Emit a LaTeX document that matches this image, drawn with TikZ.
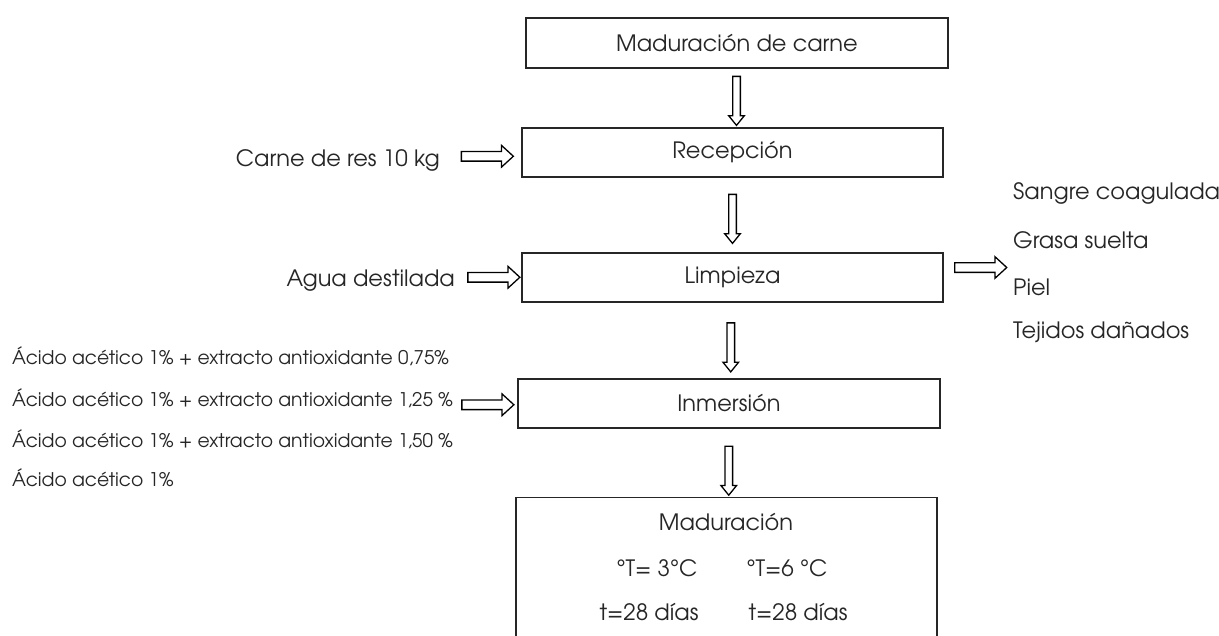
\documentclass[tikz,border=0pt]{standalone}
\usepackage{fontspec}
\setmainfont{TeX Gyre Adventor}
\usetikzlibrary{shapes.arrows,calc}
\begin{document}
\begin{tikzpicture}[x=1pt,y=-1pt,
  box/.style={draw=black!85, line width=1.2pt, rectangle, inner sep=0pt, minimum height=49pt, minimum width=421pt, text=black!85, font=\fontsize{22.5}{26}\selectfont},
  lbl/.style={inner sep=0pt, text=black!85, font=\fontsize{22.5}{26}\selectfont},
  sml/.style={inner sep=0pt, text=black!85, font=\fontsize{18.8}{22}\selectfont, anchor=west},
  blockarrow/.style={single arrow, draw=black, line width=1.3pt, fill=white},
  downarrow/.style={blockarrow, shape border rotate=270, inner sep=3.2pt, single arrow head extend=4pt, single arrow tip angle=78, minimum height=49pt},
  rightarrow/.style={blockarrow, inner sep=4.2pt, single arrow head extend=6pt, single arrow tip angle=85, minimum height=52pt}]
\useasboundingbox (0,0) rectangle (1219,635);
\fill[white] (0,0) rectangle (1219,635);
% boxes
\node[box, minimum width=422pt, minimum height=50pt] (b1) at (737,43) {Maduración de carne};
\node[box] (b2) at (732.5,152.5) {Recepción};
\node[box] (b3) at (732.5,277.5) {Limpieza};
\node[box, minimum width=422pt] (b4) at (729,403.5) {Inmersión};
\node[box, minimum height=170pt, anchor=north] (b5) at (726.5,497) {};
\node[lbl] (m1) at (726,522) {Maduración};
\node[lbl] (m2) at (657,568) {°T= 3°C};
\node[lbl] (m3) at (787,568) {°T=6 °C};
\node[lbl] (m4) at (649,612) {t=28 días};
\node[lbl] (m5) at (798,612) {t=28 días};
% vertical arrows
\node[downarrow] (d1) at ($(b1.south)!0.5!(b2.north)+(1.75,0.5)$) {};
\node[downarrow] (d2) at ($(b2.south)!0.5!(b3.north)+(0,1.5)$) {};
\node[downarrow] (d3) at ($(b3.south)!0.5!(b4.north)+(0,4.5)$) {};
\node[downarrow] (d4) at ($(b4.south)!0.5!(b5.north)+(1,5.5)$) {};
% inputs
\node[lbl, anchor=east] (carne) at (440,160) {Carne de res 10 kg};
\node[rightarrow] (ac) at ($(carne.east)!0.5!(b2.west)+(4,0)$) {};
\node[lbl, anchor=east] (agua) at (455,281) {Agua destilada};
\node[rightarrow] (aa) at ($(agua.east)!0.5!(b3.west)+(3,-2)$) {};
\node[sml] (l1) at (12,356) {Ácido acético 1\% + extracto antioxidante 0,75\%};
\node[sml] (l2) at (12,398) {Ácido acético 1\% + extracto antioxidante 1,25 \%};
\node[sml] (l3) at (12,439) {Ácido acético 1\% + extracto antioxidante 1,50 \%};
\node[sml] (l4) at (12,478) {Ácido acético 1\%};
\node[rightarrow] (ai) at ($(l2.east)!0.5!(b4.west)+(0,4)$) {};
% outputs
\node[rightarrow] (ao) at ($(b3.east)+(34.5,-10)$) {};
\node[lbl, anchor=west] (o1) at (1013,193) {Sangre coagulada};
\node[lbl, anchor=west] (o2) at (1013,240) {Grasa suelta};
\node[lbl, anchor=west] (o3) at (1013,287) {Piel};
\node[lbl, anchor=west] (o4) at (1013,332) {Tejidos dañados};
\end{tikzpicture}
\end{document}
